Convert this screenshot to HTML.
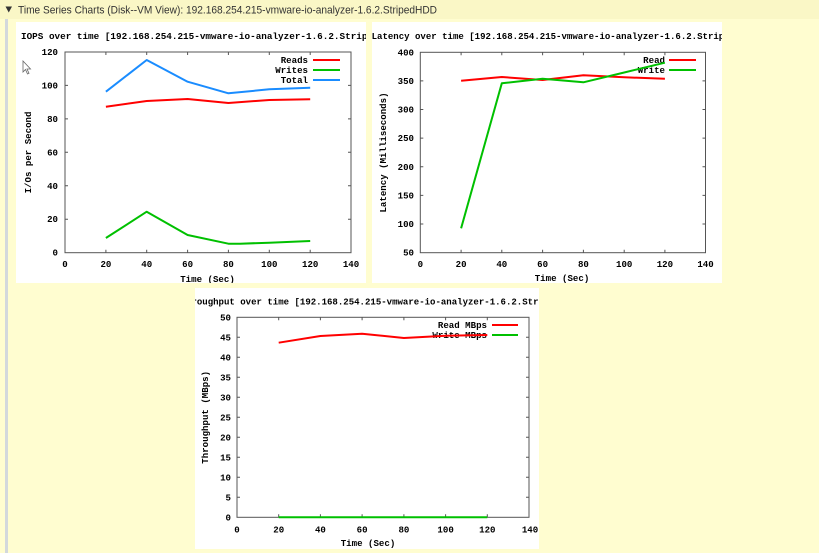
<!DOCTYPE html>
<html><head><meta charset="utf-8"><style>
html,body{margin:0;padding:0;background:#fffdd0;}
svg{display:block;}
.t{font-family:"Liberation Mono",monospace;font-weight:bold;font-size:9.1px;fill:#000;}
</style></head><body>
<svg width="819" height="553" viewBox="0 0 819 553" xmlns="http://www.w3.org/2000/svg">
<defs>
<clipPath id="c1"><rect x="16" y="22" width="350" height="261"/></clipPath>
<clipPath id="c2"><rect x="372" y="22" width="350" height="261"/></clipPath>
<clipPath id="c3"><rect x="195" y="288" width="344" height="261"/></clipPath>
</defs>
<rect x="0" y="0" width="819" height="553" fill="#fffdd0"/>
<rect x="0" y="0" width="819" height="19" fill="#faf7c6"/>
<path d="M5.5 6.5 L12 6.5 L8.75 12.5 Z" fill="#333"/>
<text x="18" y="13.5" font-family="Liberation Sans, sans-serif" font-size="10.6" fill="#333" textLength="419" lengthAdjust="spacingAndGlyphs">Time Series Charts (Disk--VM View): 192.168.254.215-vmware-io-analyzer-1.6.2.StripedHDD</text>
<rect x="5" y="19" width="3" height="534" fill="#d3d8dc"/>

<!-- Panels -->
<rect x="16" y="22" width="350" height="261" fill="#fff"/>
<rect x="372" y="22" width="350" height="261" fill="#fff"/>
<rect x="195" y="288" width="344" height="261" fill="#fff"/>

<!-- Chart 1 -->
<g clip-path="url(#c1)">
<text class="t" x="21" y="39" textLength="380" lengthAdjust="spacingAndGlyphs">IOPS over time [192.168.254.215-vmware-io-analyzer-1.6.2.StripedHDD]</text>
<g stroke="#555" stroke-width="1" fill="none">
<rect x="65" y="52" width="286" height="200.7"/>
<path d="M65 85.4h3M351 85.4h-3M65 118.9h3M351 118.9h-3M65 152.3h3M351 152.3h-3M65 185.8h3M351 185.8h-3M65 219.2h3M351 219.2h-3
M105.9 252.7v-3M105.9 52v3M146.7 252.7v-3M146.7 52v3M187.6 252.7v-3M187.6 52v3M228.4 252.7v-3M228.4 52v3M269.3 252.7v-3M269.3 52v3M310.2 252.7v-3M310.2 52v3"/>
</g>
<g class="t" text-anchor="end">
<text x="58" y="55">120</text><text x="58" y="88.4">100</text><text x="58" y="121.9">80</text><text x="58" y="155.3">60</text><text x="58" y="188.8">40</text><text x="58" y="222.2">20</text><text x="58" y="255.7">0</text>
</g>
<g class="t" text-anchor="middle">
<text x="65" y="267">0</text><text x="105.9" y="267">20</text><text x="146.7" y="267">40</text><text x="187.6" y="267">60</text><text x="228.4" y="267">80</text><text x="269.3" y="267">100</text><text x="310.2" y="267">120</text><text x="351" y="267">140</text>
<text x="207.5" y="282">Time (Sec)</text>
<text transform="translate(31 152.5) rotate(-90)">I/Os per Second</text>
</g>
<g class="t" text-anchor="end">
<text x="308" y="63">Reads</text><text x="308" y="73">Writes</text><text x="308" y="83">Total</text>
</g>
<g fill="none" stroke-width="2" stroke-linejoin="round">
<path d="M313 60H340" stroke="#ff0000"/>
<path d="M313 70H340" stroke="#00c000"/>
<path d="M313 80H340" stroke="#1a8cff"/>
<polyline stroke="#ff0000" points="105.9,106.7 146.7,101 187.6,99 228.4,103 269.3,100 310.2,99.3"/>
<polyline stroke="#00c000" points="105.9,238 146.7,211.7 187.6,235 228.4,243.7 240,243.7 269.3,242.7 310.2,241"/>
<polyline stroke="#1a8cff" points="105.9,91.7 146.7,60 187.6,81.7 228.4,93.3 269.3,89.3 310.2,87.7"/>
</g>
<path d="M23 61 L23 72 L25.5 69.5 L27.5 74 L29 73.3 L27 69 L30.5 69 Z" fill="#fff" stroke="#666" stroke-width="0.8"/>
</g>

<!-- Chart 2 -->
<g clip-path="url(#c2)">
<text class="t" x="371.6" y="39" textLength="385.2" lengthAdjust="spacingAndGlyphs">Latency over time [192.168.254.215-vmware-io-analyzer-1.6.2.StripedHDD]</text>
<g stroke="#555" stroke-width="1" fill="none">
<rect x="420.3" y="52.3" width="285.2" height="200.4"/>
<path d="M420.3 80.9h3M705.5 80.9h-3M420.3 109.5h3M705.5 109.5h-3M420.3 138.1h3M705.5 138.1h-3M420.3 166.8h3M705.5 166.8h-3M420.3 195.4h3M705.5 195.4h-3M420.3 224h3M705.5 224h-3
M461.1 252.7v-3M461.1 52.3v3M501.8 252.7v-3M501.8 52.3v3M542.6 252.7v-3M542.6 52.3v3M583.4 252.7v-3M583.4 52.3v3M624.2 252.7v-3M624.2 52.3v3M664.9 252.7v-3M664.9 52.3v3"/>
</g>
<g class="t" text-anchor="end">
<text x="414" y="55.3">400</text><text x="414" y="83.9">350</text><text x="414" y="112.5">300</text><text x="414" y="141.1">250</text><text x="414" y="169.8">200</text><text x="414" y="198.4">150</text><text x="414" y="227">100</text><text x="414" y="255.7">50</text>
</g>
<g class="t" text-anchor="middle">
<text x="420.3" y="267">0</text><text x="461.1" y="267">20</text><text x="501.8" y="267">40</text><text x="542.6" y="267">60</text><text x="583.4" y="267">80</text><text x="624.2" y="267">100</text><text x="664.9" y="267">120</text><text x="705.5" y="267">140</text>
<text x="562" y="281">Time (Sec)</text>
<text transform="translate(386 152.5) rotate(-90)">Latency (Milliseconds)</text>
</g>
<g class="t" text-anchor="end">
<text x="665" y="63">Read</text><text x="665" y="73">Write</text>
</g>
<g fill="none" stroke-width="2" stroke-linejoin="round">
<path d="M669 60H696" stroke="#ff0000"/>
<path d="M669 70H696" stroke="#00c000"/>
<polyline stroke="#ff0000" points="461.1,80.7 501.8,77 542.6,80 583.4,75.3 624.2,77.3 664.9,78.7"/>
<polyline stroke="#00c000" points="461.1,228.3 501.8,83.3 542.6,78.7 583.4,82.3 624.2,72.5 664.9,62.7"/>
</g>
</g>

<!-- Chart 3 -->
<g clip-path="url(#c3)">
<text class="t" x="180.6" y="304.5" textLength="401.3" lengthAdjust="spacingAndGlyphs">Throughput over time [192.168.254.215-vmware-io-analyzer-1.6.2.StripedHDD]</text>
<g stroke="#555" stroke-width="1" fill="none">
<rect x="237" y="317.3" width="292" height="200"/>
<path d="M237 337.3h3M529 337.3h-3M237 357.3h3M529 357.3h-3M237 377.3h3M529 377.3h-3M237 397.3h3M529 397.3h-3M237 417.3h3M529 417.3h-3M237 437.3h3M529 437.3h-3M237 457.3h3M529 457.3h-3M237 477.3h3M529 477.3h-3M237 497.3h3M529 497.3h-3
M278.7 517.3v-3M278.7 317.3v3M320.4 517.3v-3M320.4 317.3v3M362.1 517.3v-3M362.1 317.3v3M403.9 517.3v-3M403.9 317.3v3M445.6 517.3v-3M445.6 317.3v3M487.3 517.3v-3M487.3 317.3v3"/>
</g>
<g class="t" text-anchor="end">
<text x="231" y="320.3">50</text><text x="231" y="340.3">45</text><text x="231" y="360.3">40</text><text x="231" y="380.3">35</text><text x="231" y="400.3">30</text><text x="231" y="420.3">25</text><text x="231" y="440.3">20</text><text x="231" y="460.3">15</text><text x="231" y="480.3">10</text><text x="231" y="500.3">5</text><text x="231" y="520.3">0</text>
</g>
<g class="t" text-anchor="middle">
<text x="237" y="532.3">0</text><text x="278.7" y="532.3">20</text><text x="320.4" y="532.3">40</text><text x="362.1" y="532.3">60</text><text x="403.9" y="532.3">80</text><text x="445.6" y="532.3">100</text><text x="487.3" y="532.3">120</text><text x="530" y="532.3">140</text>
<text x="368" y="546">Time (Sec)</text>
<text transform="translate(208 417.3) rotate(-90)">Throughput (MBps)</text>
</g>
<g class="t" text-anchor="end">
<text x="487" y="328">Read MBps</text><text x="487" y="338">Write MBps</text>
</g>
<g fill="none" stroke-width="2" stroke-linejoin="round">
<path d="M492 325H518" stroke="#ff0000"/>
<path d="M492 335H518" stroke="#00c000"/>
<polyline stroke="#00c000" points="278.7,517.3 487.3,517.3"/>
<polyline stroke="#ff0000" points="278.7,342.7 320.4,336 362.1,333.7 403.9,338 445.6,335.7 487.3,335"/>
</g>
</g>
</svg>
</body></html>
